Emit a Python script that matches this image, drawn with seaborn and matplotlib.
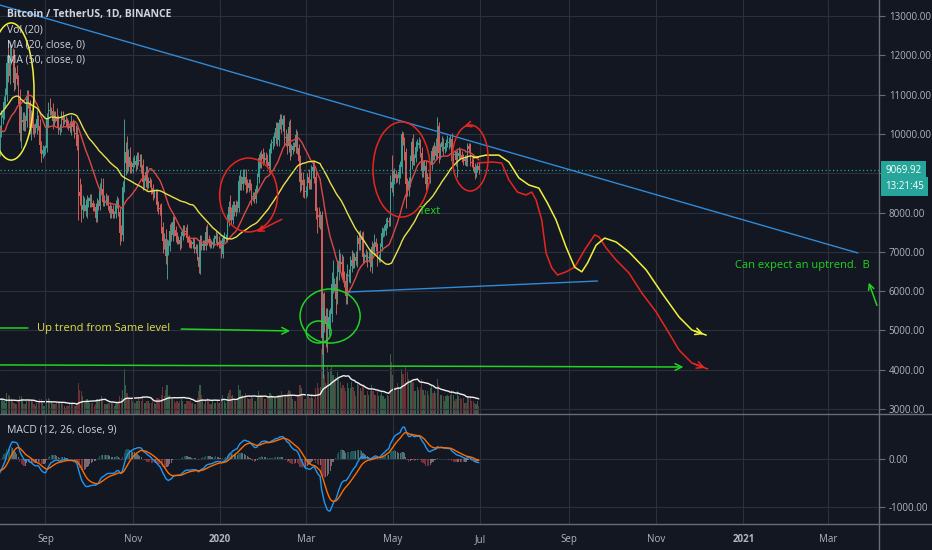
import pandas as pd
import matplotlib
matplotlib.use("Agg")
import matplotlib.pyplot as plt
import matplotlib.dates as mdates
import numpy as np
import seaborn as sns
from matplotlib.patches import Ellipse
from matplotlib.lines import Line2D
from matplotlib.transforms import blended_transform_factory

# BTCUSDT daily closes from 2019-06-01 to 2020-06-30 (Jun/Jul 2019 only warm up the MAs)
closes = [
    8560, 8740, 8210, 7690, 7780, 7810, 7990, 7930, 7630, 8020, 7920, 8130, 8230, 8690, 8840, 8980, 9330, 9080, 9270, 9530, 10210, 10700, 11020, 11120, 11760, 12930, 11160, 12400, 11880, 10820,
    10590, 10840, 11980, 11150, 10980, 11250, 11480, 12300, 12570, 12100, 11350, 11810, 11380, 10850, 10190, 9420, 9690, 10630, 10530, 10770, 10590, 10330, 9900, 9770, 9880, 9480, 9540, 9520, 9500, 9590, 10080,
    10400, 10530, 10820, 10980, 11800, 11470, 11970, 11980, 11860, 11290, 11550, 11390, 10900, 10030, 10300, 10360, 10220, 10320, 10920, 10760, 10140, 10410, 10140, 10130, 10140, 10370, 10190, 9720, 9480, 9580, 9600,
    9630, 10380, 10620, 10580, 10580, 10320, 10490, 10400, 10330, 10110, 10160, 10420, 10360, 10360, 10310, 10260, 10190, 10160, 10270, 10170, 9985, 10030, 9700, 8530, 8430, 8060, 8200, 8200, 8050, 8300,
    8300, 8360, 8230, 8150, 8130, 7860, 8210, 8170, 8560, 8590, 8260, 8300, 8280, 8350, 8160, 8000, 8080, 7950, 7950, 8220, 8230, 8020, 7470, 7420, 8660, 9250, 9550, 9210, 9420, 9160, 9150,
    9250, 9310, 9200, 9400, 9300, 9340, 9200, 8770, 8810, 9040, 8720, 8800, 8760, 8630, 8460, 8490, 8500, 8180, 8120, 8080, 7620, 7280, 7320, 6900, 7130, 7160, 7520, 7420, 7750, 7550,
    7400, 7300, 7300, 7200, 7390, 7530, 7500, 7520, 7340, 7220, 7200, 7190, 7250, 7070, 7110, 6880, 6610, 7280, 7150, 7190, 7140, 7510, 7320, 7250, 7200, 7200, 7250, 7320, 7390, 7250, 7200,
    7200, 6950, 7340, 7350, 7350, 7760, 8150, 8050, 7820, 8200, 8020, 8180, 8110, 8810, 8820, 8720, 8900, 8910, 8700, 8630, 8740, 8660, 8390, 8430, 8340, 8600, 8900, 9390, 9290, 9500, 9350,
    9380, 9330, 9290, 9180, 9620, 9760, 9800, 9900, 10160, 9850, 10270, 10360, 10230, 10370, 9900, 9920, 9700, 10170, 9590, 9600, 9690, 9660, 9970, 9650, 9310, 8780, 8820, 8690, 8520,
    8530, 8910, 8760, 8750, 9070, 9150, 8900, 8030, 7930, 7890, 7940, 4800, 5580, 5170, 5360, 5030, 5330, 5410, 6190, 6190, 6190, 5810, 6490, 6770, 6690, 6750, 6370, 6250, 5880, 6390, 6410,
    6640, 6790, 6730, 6860, 6770, 7340, 7200, 7360, 7290, 6860, 6880, 6910, 6850, 6860, 6620, 7120, 7090, 7260, 7130, 6840, 6850, 7130, 7480, 7500, 7540, 7700, 7790, 7750, 8780, 8620,
    8830, 8970, 8890, 8880, 9030, 9150, 9990, 9810, 9540, 8720, 8560, 8810, 9310, 9790, 9310, 9380, 9670, 9730, 9780, 9510, 9060, 9170, 9180, 8720, 8900, 8840, 9200, 9570, 9430, 9700, 9450,
    10200, 9520, 9670, 9790, 9620, 9670, 9760, 9770, 9770, 9870, 9320, 9470, 9470, 9340, 9430, 9520, 9460, 9390, 9300, 9360, 9290, 9680, 9620, 9290, 9250, 9160, 9010, 9120, 9190, 9069.92,
]

# upper / lower wicks beyond the body, in hundreds of USDT
wick_up = [
    1.5, 2, 3, 2, 2, 2, 2, 1.5, 2, 1.5, 2, 1.5, 2, 1.5, 1.5, 2.5, 1.5, 2.5, 1.5, 1.5, 1, 1, 2.5, 1.5, 2, 8.7, 5, 1.5, 3, 5,
    3, 5, 2, 10, 4, 2, 3, 2.5, 2, 6, 5, 3, 2, 3, 5, 6, 4, 2, 3, 2, 2, 1.5, 2, 2.5, 2, 4, 3, 2, 1.5, 2, 1.5,
    2, 1.5, 1.5, 2, 2, 6, 4, 3, 2, 3, 1.5, 2, 1, 2.5, 4, 2, 2, 1.5, 2, 2, 1, 2, 2, 1, 1.5, 2.5, 1, 2, 1, 1.5, 1,
    1, 1.5, 2, 3, 1, 2, 1, 1, 2.5, 1.5, 1, 1.5, 1.5, 1, 1, 1, 1, 1.5, 2, 1, 1.5, 2, 1.5, 3, 3.5, 3, 2.5, 2, 1.5, 1.5,
    1, 1, 1, 1, 1, 1, 1.5, 1, 2, 3, 3, 1.5, 2, 1, 1, 1, 1, 1, 1, 1, 2, 1.5, 1, 2, 1.5, 11.2, 2.5, 4, 2, 2.5, 1.5,
    1.5, 1.5, 1.5, 1.5, 1.5, 1.5, 1.5, 1.5, 1, 1.5, 1.5, 1, 1, 1, 1, 1, 1, 1, 1, 1, 1.5, 1.5, 1.5, 2.5, 2, 1.5, 2, 2.5, 1.5, 1.5,
    1, 1, 1, 1, 1.5, 1.5, 1.5, 1, 2, 1, 1, 1, 1, 1, 1, 1, 1, 1.5, 1.5, 1, 1, 1.5, 2, 1, 1, 1, 1, 1, 1.5, 1, 1.5,
    1, 1, 1, 1.5, 1, 2, 1.5, 3, 1, 1, 1, 1.5, 1, 1.5, 2.5, 1, 2, 2, 2, 1.5, 1, 1, 1, 1, 1, 1, 1, 1, 1.5, 1, 1.5,
    1.5, 1.5, 1.5, 1, 1.5, 1, 1.5, 1.5, 1.5, 1.5, 1, 1.5, 1.5, 1, 1, 2, 1, 1.5, 2, 1.5, 1, 1, 1.5, 1, 1, 1.5, 2, 2, 1.5,
    1.5, 1, 2, 1, 1.5, 1.5, 1.5, 1.5, 1, 2, 1, 1, 3.8, 4, 2, 2, 2, 1.5, 3, 6, 1.5, 2, 2.5, 3, 2, 2, 1.5, 1.5, 2, 3, 1.5,
    2.5, 2.5, 2, 1, 1.5, 1, 2, 2, 1.5, 2.5, 1, 1.5, 1, 1.5, 2, 1.5, 1, 2, 1, 1, 1, 1, 1.5, 1, 1.5, 1.5, 1, 1, 1.7, 6.9,
    2.5, 1.5, 1, 1, 2, 1.5, 0.8, 0.5, 1, 1, 1.5, 1, 1.5, 1, 2, 1, 1.5, 1.5, 1.5, 1, 1.5, 1.5, 1.5, 1.5, 1, 1, 1, 1, 1.5, 1, 2,
    2.3, 1, 1, 1.5, 1, 1, 1, 2, 1.5, 1, 1.5, 1, 1, 1, 1.5, 1.5, 1, 1, 1, 1, 1, 1, 1, 1.5, 1, 1, 1, 1, 1, 1,
]
wick_dn = [
    1.5, 1.5, 1, 1, 3, 1.5, 1, 1.5, 1, 2, 1.5, 1.5, 1.5, 1, 1.5, 1, 2, 2, 2, 1.5, 1, 3, 2, 2, 1.5, 1, 3.6, 2.5, 2, 5,
    4, 2, 2, 2, 2, 2, 2, 1.5, 2, 2.5, 2.5, 3, 2, 1.5, 2, 2, 4, 2, 1.5, 2, 2, 1.5, 2, 2, 2, 2, 1.5, 1.5, 1.5, 1.5, 1.5,
    1.5, 1.5, 1.5, 1.5, 1.5, 1.5, 2, 2, 2, 2, 1.5, 1.5, 1.5, 2, 4, 2, 1.5, 1.5, 1.5, 1, 1.5, 3, 1.5, 2, 1, 1.5, 1, 2, 2, 1, 1.5,
    1, 1, 2, 1, 1, 2, 1, 1, 1.5, 1, 1.5, 1, 1.5, 1, 1, 1, 1, 1, 2, 1, 1, 1.5, 1, 7.3, 2.5, 3, 2, 1.5, 1.5, 2,
    1.5, 1.5, 1, 1, 1, 1, 1, 1, 1, 1, 1, 1, 1, 1, 1, 1.5, 1.5, 1, 1, 1, 1, 1, 3, 1.5, 1.5, 1.5, 3, 2, 1.5, 1.5, 1.5,
    1.5, 1, 1.5, 1, 1, 1.5, 2, 2, 1.5, 1.5, 1.5, 1, 1, 1.5, 1.5, 1, 1, 1.5, 1.5, 1.5, 1.5, 3, 2, 2, 6, 2, 1.5, 1.5, 1.5, 1.5,
    1.5, 1, 1, 1.5, 1, 1, 1, 1, 1, 1, 1, 1, 1, 1, 1, 1, 1.5, 1.8, 1, 1, 1, 1, 1.5, 1, 1, 1, 1, 1, 1, 1, 1,
    1, 1, 1, 1, 1, 1, 1, 2.5, 1, 1, 1, 1, 1, 1, 2.5, 1.5, 1.5, 1.5, 2, 1, 1, 1, 2, 1, 1, 1, 1, 1.5, 1.5, 1.5, 1.5,
    1, 1, 1.5, 1.5, 1.5, 1, 1.5, 1, 1.5, 1.5, 1.5, 1.5, 2, 1.5, 2, 2, 2, 1.5, 2.5, 1.5, 1, 1, 1.5, 1.5, 2.5, 2.5, 2, 3, 1.5,
    1.5, 1, 1.5, 1.5, 1.5, 2, 1.5, 2, 4.5, 2.5, 3, 3.9, 10.2, 2, 6, 5.8, 1.5, 3, 2, 2.5, 2, 4, 1.5, 2, 1.5, 1.5, 1.5, 1.5, 2, 2, 1.5,
    2, 1.5, 1.5, 1.5, 1, 1.5, 1.5, 1.5, 1, 1.5, 1.5, 1.5, 2.3, 1, 1, 1.5, 1, 1.5, 1, 2, 1, 1, 1, 1, 1, 1, 1, 1, 1, 1,
    2, 1, 1.5, 1, 1.5, 1.5, 1.5, 1, 2, 6.1, 1.5, 1.5, 1.5, 2, 1, 1, 1, 1, 1, 1, 1.5, 1.5, 1, 1.5, 1.5, 1, 1, 1, 1, 1, 1,
    1, 2.5, 1.5, 1, 1.5, 1, 1, 1, 1.5, 1, 1.5, 2, 1, 1.5, 4.4, 1, 1, 1, 1, 1, 1, 1, 1, 1, 1, 1, 1.5, 1, 1, 1,
]

# daily volume, thousands of BTC
volumes = [
    45, 50, 55, 60, 50, 45, 50, 40, 45, 50, 45, 45, 45, 55, 50, 45, 55, 50, 45, 50, 60, 70, 65, 55, 65, 110, 120, 80, 70, 65,
    70, 60, 65, 75, 50, 40, 45, 55, 60, 60, 65, 45, 45, 60, 70, 75, 60, 55, 45, 40, 35, 40, 45, 40, 40, 40, 35, 35, 30, 35, 45,
    50, 45, 40, 35, 65, 60, 55, 45, 40, 35, 30, 30, 40, 55, 55, 45, 30, 30, 40, 40, 45, 40, 40, 30, 25, 35, 35, 45, 45, 35, 25,
    30, 45, 50, 45, 40, 35, 30, 30, 35, 35, 35, 35, 30, 25, 20, 25, 25, 30, 35, 30, 25, 25, 30, 95, 75, 70, 55, 35, 40, 45,
    40, 35, 35, 35, 25, 30, 45, 40, 45, 55, 45, 30, 30, 30, 35, 35, 35, 35, 25, 30, 35, 35, 55, 50, 75, 140, 90, 65, 50, 45, 45,
    40, 35, 35, 40, 45, 40, 40, 55, 35, 35, 40, 40, 35, 35, 40, 35, 30, 50, 50, 45, 60, 85, 55, 75, 90, 55, 60, 45, 45, 40,
    35, 40, 35, 40, 45, 40, 30, 30, 40, 40, 40, 35, 35, 30, 30, 50, 70, 90, 60, 45, 30, 40, 50, 40, 30, 30, 40, 35, 35, 40, 35,
    35, 50, 60, 40, 35, 55, 65, 75, 55, 60, 45, 40, 45, 90, 75, 55, 60, 50, 65, 50, 45, 45, 55, 50, 40, 40, 55, 70, 60, 60, 55,
    45, 45, 55, 55, 65, 60, 55, 50, 50, 60, 60, 60, 70, 55, 60, 55, 65, 75, 70, 55, 45, 40, 40, 55, 60, 90, 80, 60, 45,
    45, 60, 55, 50, 55, 50, 45, 80, 95, 80, 85, 200, 195, 120, 95, 150, 130, 140, 145, 120, 110, 115, 130, 110, 100, 80, 90, 80, 70, 95, 80,
    80, 100, 85, 70, 55, 100, 90, 80, 70, 90, 60, 60, 70, 60, 70, 90, 70, 60, 60, 70, 55, 60, 70, 55, 45, 50, 60, 55, 185, 160,
    120, 80, 85, 95, 85, 85, 140, 125, 95, 145, 130, 110, 100, 105, 100, 70, 70, 85, 75, 80, 110, 75, 60, 75, 70, 60, 80, 90, 65, 70, 65,
    110, 90, 60, 60, 55, 40, 55, 60, 55, 60, 75, 60, 40, 45, 70, 55, 50, 45, 50, 35, 35, 55, 55, 55, 40, 40, 35, 30, 40, 25,
]

# hand drawn annotations (date, price)
trend_top_dates = ["2019-07-20", "2021-03-22"]
trend_top_prices = [13396, 6970]
trend_low_dates = ["2020-03-31", "2020-09-21"]
trend_low_prices = [5977, 6257]
support_dates = ["2019-07-25", "2020-11-22"]
support_prices = [4122, 4069]
uptrend_left_dates = ["2019-07-25", "2019-08-20"]
uptrend_left_prices = [5061, 5061]
uptrend_right_dates = ["2019-12-03", "2020-02-21"]
uptrend_right_prices = [5036, 4985]

red_path_dates = ["2020-06-29", "2020-07-09", "2020-07-16", "2020-07-21", "2020-07-27", "2020-08-02", "2020-08-06",
                  "2020-08-09", "2020-08-13", "2020-08-16", "2020-08-20", "2020-08-24", "2020-08-30", "2020-09-05",
                  "2020-09-12", "2020-09-19", "2020-09-22", "2020-09-27", "2020-10-04", "2020-10-13", "2020-10-22",
                  "2020-11-01", "2020-11-10", "2020-11-17", "2020-11-26", "2020-12-07"]
red_path_prices = [9260, 9285, 9260, 8830, 8520, 8445, 8520, 8320, 7810, 6970, 6590, 6410, 6490, 6610,
                   7050, 7430, 7380, 7100, 6790, 6460, 5950, 5470, 4930, 4500, 4170, 4020]
yellow_path_dates = ["2020-06-26", "2020-07-05", "2020-07-14", "2020-07-21", "2020-07-28", "2020-08-04", "2020-08-11",
                     "2020-08-17", "2020-08-23", "2020-08-30", "2020-09-05", "2020-09-10", "2020-09-14", "2020-09-20",
                     "2020-09-26", "2020-10-04", "2020-10-13", "2020-10-25", "2020-11-05", "2020-11-17", "2020-11-26",
                     "2020-12-06"]
yellow_path_prices = [9390, 9460, 9460, 9285, 8880, 8700, 8620, 8240, 7810, 7120, 6610, 6490, 6715, 7170,
                      7350, 7250, 6995, 6540, 5950, 5340, 5010, 4880]

# (center date, center price, width in days, height in price, colour name)
drawn_circles = [
    ("2019-08-08", 11079, 32, 3490, "yellow"),
    ("2020-01-21", 8445, 40.5, 1880, "red"),
    ("2020-05-07", 9094, 40, 2420, "red"),
    ("2020-06-24", 9387, 25, 1680, "red"),
    ("2020-03-18", 5366, 42, 1375, "green"),
    ("2020-03-10", 4960, 17.5, 560, "green"),
]
# (from date, from price, to date, to price, colour name)
drawn_arrows = [
    ("2020-02-15", 7860, "2020-01-25", 7478, "red"),
    ("2020-06-25", 10252, "2020-06-18", 10176, "red"),
    ("2021-04-05", 5570, "2021-03-29", 6282, "green"),
]
notes = [
    ("2019-08-26", 5061, "Up trend from Same level", "note_yellow"),
    ("2020-05-19", 8013, "Text", "green"),
    ("2020-12-26", 6664, "Can expect an uptrend.  B", "green"),
]

legend_lines = ["Vol (20)", "MA (20, close, 0)", "MA (50, close, 0)"]
title = "Bitcoin / TetherUS, 1D, BINANCE"
countdown = "13:21:45"
price_ticks = [3000, 4000, 5000, 6000, 7000, 8000, 9000, 10000, 11000, 12000, 13000]
macd_ticks = [-1000, 0]
month_ticks = ["2019-09-01", "2019-11-01", "2020-01-01", "2020-03-01", "2020-05-01", "2020-07-01",
               "2020-09-01", "2020-11-01", "2021-01-01", "2021-03-01"]
month_labels = ["Sep", "Nov", "2020", "Mar", "May", "Jul", "Sep", "Nov", "2021", "Mar"]

BG = "#131722"
GRID = "#2c303c"
SEP = "#6a6d78"
TXT = "#b2b5be"
UP = "#3f9e92"
DOWN = "#cf5d5a"
TEAL = "#26a69a"
INK = {"red": "#e8261f", "yellow": "#f2f23a", "green": "#21d421", "note_yellow": "#dede48"}

sns.set_theme(style="dark", rc={"figure.facecolor": BG, "axes.facecolor": BG, "savefig.facecolor": BG,
                                "axes.edgecolor": BG, "grid.color": GRID, "text.color": TXT,
                                "xtick.color": TXT, "ytick.color": TXT})
plt.rcParams["font.family"] = ["Open Sans", "DejaVu Sans"]


def dn(s):
    return mdates.date2num(pd.Timestamp(s))


# build the frame
days = pd.date_range("2019-06-01", periods=len(closes), freq="D")
df = pd.DataFrame({"close": closes, "up": wick_up, "dn": wick_dn, "vol": volumes}, index=days)
df["open"] = df["close"].shift(1).fillna(df["close"])
df["high"] = df[["open", "close"]].max(axis=1) + df["up"] * 100
df["low"] = df[["open", "close"]].min(axis=1) - df["dn"] * 100
df["ma20"] = df["close"].rolling(20).mean()
df["ma50"] = df["close"].rolling(50).mean()
df["vma"] = df["vol"].rolling(20).mean()
ema12 = df["close"].ewm(span=12, adjust=False).mean()
ema26 = df["close"].ewm(span=26, adjust=False).mean()
df["macd"] = ema12 - ema26
df["signal"] = df["macd"].ewm(span=9, adjust=False).mean()
df["hist"] = df["macd"] - df["signal"]
x = mdates.date2num(df.index)
rising = (df["close"] >= df["open"]).values
cols = np.where(rising, UP, DOWN)

W, H = 932, 550
fig = plt.figure(figsize=(W / 100, H / 100), dpi=100)
ax = fig.add_axes([0, 1 - 414 / H, 879 / W, 414 / H])
axm = fig.add_axes([0, 1 - 524 / H, 879 / W, 110 / H], sharex=ax)
axv = ax.twinx()
ax.set_zorder(axv.get_zorder() + 1)
ax.patch.set_visible(False)

# volume
vcols = np.where(rising, "#4f9a66", "#b34a48")
axv.bar(x, df["vol"], width=0.8, color=vcols, alpha=0.55, linewidth=0)
sns.lineplot(x=x, y=df["vma"].values, ax=axv, color="#f0f0f0", lw=1, estimator=None)
axv.set_ylim(0, 414 * 3.1)
axv.set_yticks([])
axv.grid(False)
for s in axv.spines.values():
    s.set_visible(False)

# candles
ax.vlines(x, df["low"], df["high"], colors=cols, lw=0.7, zorder=2)
body = (df["close"] - df["open"]).abs().clip(lower=15)
ax.bar(x, body, bottom=df[["open", "close"]].min(axis=1), width=0.8, color=cols, linewidth=0, zorder=2)
sns.lineplot(x=x, y=df["ma20"].values, ax=ax, color="#dc4846", lw=1, estimator=None, zorder=3)
sns.lineplot(x=x, y=df["ma50"].values, ax=ax, color="#e6e24a", lw=1, estimator=None, zorder=3)

last_close = closes[-1]
ax.axhline(last_close, color=TEAL, lw=0.9, ls=(0, (1, 2)), zorder=3)

# drawings
ax.plot([dn(d) for d in trend_top_dates], trend_top_prices, color="#2f8ad8", lw=1, zorder=4)
ax.plot([dn(d) for d in trend_low_dates], trend_low_prices, color="#2f8ad8", lw=1, zorder=4)
ax.annotate("", xy=(dn(support_dates[1]), support_prices[1]), xytext=(dn(support_dates[0]), support_prices[0]),
            arrowprops=dict(arrowstyle="->", color=INK["green"], lw=1.1, mutation_scale=12), zorder=4)
ax.plot([dn(d) for d in uptrend_left_dates], uptrend_left_prices, color=INK["green"], lw=1.1, zorder=4)
ax.annotate("", xy=(dn(uptrend_right_dates[1]), uptrend_right_prices[1]),
            xytext=(dn(uptrend_right_dates[0]), uptrend_right_prices[0]),
            arrowprops=dict(arrowstyle="->", color=INK["green"], lw=1.1, mutation_scale=12), zorder=4)

for dates, prices, key in [(red_path_dates, red_path_prices, "red"), (yellow_path_dates, yellow_path_prices, "yellow")]:
    px = [dn(d) for d in dates]
    ax.plot(px, prices, color=INK[key], lw=1.1, solid_joinstyle="round", solid_capstyle="round", zorder=4)
    ax.annotate("", xy=(px[-1], prices[-1]), xytext=(px[-2], prices[-2]),
                arrowprops=dict(arrowstyle="->", color=INK[key], lw=1.1, mutation_scale=12), zorder=4)

for d, p, w, h, key in drawn_circles:
    ax.add_patch(Ellipse((dn(d), p), w, h, fill=False, ec=INK[key], lw=1.1, zorder=4))

for d0, p0, d1, p1, key in drawn_arrows:
    ax.annotate("", xy=(dn(d1), p1), xytext=(dn(d0), p0),
                arrowprops=dict(arrowstyle="->", color=INK[key], lw=1.1, mutation_scale=10), zorder=4)

for d, p, txt, key in notes:
    ax.text(dn(d), p, txt, color=INK[key], fontsize=8, va="center", ha="left", clip_on=True, zorder=5)

# macd pane
h = df["hist"]
prev = h.shift(1)
hcols = np.where(h >= 0, np.where(h >= prev, "#26a69a", "#b2dfdb"), np.where(h < prev, "#ef5350", "#ffcdd2"))
axm.bar(x, h, width=0.8, color=hcols, alpha=0.45, linewidth=0)
sns.lineplot(x=x, y=df["macd"].values, ax=axm, color="#2196f3", lw=1, estimator=None)
sns.lineplot(x=x, y=df["signal"].values, ax=axm, color="#ff6d00", lw=1, estimator=None)

# axes and grids
ax.set_xlim(dn("2020-01-01") - 153.8, dn("2020-01-01") + 460.8)
ax.set_ylim(2873, 13407)
axm.set_ylim(-1354, 937)
xt = [dn(d) for d in month_ticks]
for a in (ax, axm):
    a.set_xticks(xt)
    a.grid(True, axis="both", color=GRID, lw=0.8)
    a.set_axisbelow(True)
    for s in a.spines.values():
        s.set_visible(False)
    a.yaxis.tick_right()
    a.tick_params(axis="y", length=4, width=0.8, color=SEP, pad=3, labelsize=7, labelcolor=TXT)

ax.set_yticks(price_ticks)
ax.set_yticklabels(["" if t == 9000 else f"{t:.2f}" for t in price_ticks])
ax.tick_params(axis="x", bottom=False, labelbottom=False)
axm.set_yticks(macd_ticks)
axm.set_yticklabels([f"{t:.2f}" for t in macd_ticks])
axm.set_xticklabels(month_labels)
axm.tick_params(axis="x", length=3, width=0.8, color=SEP, pad=4, labelsize=7, labelcolor=TXT)
for lab in axm.get_xticklabels():
    if lab.get_text().isdigit():
        lab.set_fontweight("bold")
ax.set_xlabel("")
axm.set_xlabel("")

# price label boxes
tr = blended_transform_factory(ax.transAxes, ax.transData)
ax.annotate(f"{last_close:.2f}", xy=(1, last_close), xycoords=tr, xytext=(6, 0), textcoords="offset pixels",
            va="center", ha="left", color="white", fontsize=7, annotation_clip=False,
            bbox=dict(boxstyle="square,pad=0.45", fc=TEAL, ec="none"))
ax.annotate(countdown, xy=(1, last_close), xycoords=tr, xytext=(6, -16), textcoords="offset pixels",
            va="center", ha="left", color="white", fontsize=7, annotation_clip=False,
            bbox=dict(boxstyle="square,pad=0.45", fc=TEAL, ec="none"))

# pane separators
for yy in (414, 524):
    fig.add_artist(Line2D([0, 1], [1 - yy / H] * 2, transform=fig.transFigure, color=SEP, lw=1))
fig.add_artist(Line2D([879 / W] * 2, [0, 1], transform=fig.transFigure, color=SEP, lw=1))

# legend texts
fig.text(7 / W, 1 - 14 / H, title, fontsize=7.5, fontweight="bold", color="#d1d4dc", va="center")
for i, t in enumerate(legend_lines):
    fig.text(7 / W, 1 - (30 + 15 * i) / H, t, fontsize=7.5, color="#d1d4dc", va="center")
axm.text(7 / 879, (524 - 430) / 110, "MACD (12, 26, close, 9)", transform=axm.transAxes,
         fontsize=7.5, color="#d1d4dc", va="center")

plt.savefig("out.png", dpi=100, facecolor=BG)
